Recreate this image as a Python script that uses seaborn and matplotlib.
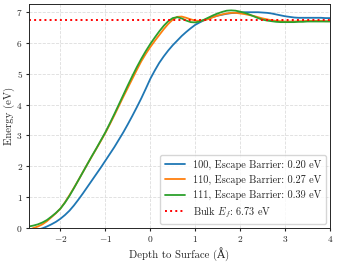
import numpy as np
import pandas as pd
import seaborn as sns
import matplotlib.pyplot as plt

# depth grid (Angstrom), 0.1 A steps from -2.8 to 4.0
depth = list(np.round(np.arange(-2.8, 4.05, 0.1), 1))

# potential energy (eV) for each surface
e_100 = [-0.15, -0.12, -0.08, -0.05, -0.01, 0.05, 0.12, 0.2, 0.3, 0.42,
         0.56, 0.73, 0.92, 1.12, 1.33, 1.54, 1.75, 1.96, 2.18, 2.4,
         2.62, 2.86, 3.1, 3.36, 3.63, 3.91, 4.2, 4.51, 4.83, 5.1,
         5.35, 5.56, 5.75, 5.92, 6.07, 6.22, 6.35, 6.47, 6.58, 6.66,
         6.73, 6.79, 6.84, 6.88, 6.91, 6.94, 6.96, 6.97, 6.98, 6.99,
         6.99, 6.99, 6.99, 6.98, 6.97, 6.95, 6.92, 6.89, 6.86, 6.84,
         6.82, 6.81, 6.81, 6.81, 6.81, 6.81, 6.81, 6.8, 6.8]
e_110 = [-0.1, -0.06, 0.0, 0.05, 0.12, 0.22, 0.35, 0.48, 0.63, 0.83,
         1.06, 1.3, 1.55, 1.81, 2.07, 2.32, 2.57, 2.82, 3.08, 3.36,
         3.65, 3.95, 4.25, 4.54, 4.83, 5.12, 5.4, 5.64, 5.86, 6.06,
         6.25, 6.44, 6.61, 6.75, 6.84, 6.85, 6.81, 6.76, 6.72, 6.71,
         6.73, 6.77, 6.83, 6.88, 6.92, 6.95, 6.97, 6.97, 6.95, 6.93,
         6.9, 6.87, 6.83, 6.79, 6.76, 6.73, 6.71, 6.7, 6.69, 6.69,
         6.69, 6.7, 6.7, 6.71, 6.71, 6.71, 6.71, 6.7, 6.7]
e_111 = [0.03, 0.05, 0.08, 0.12, 0.18, 0.26, 0.37, 0.49, 0.63, 0.82,
         1.04, 1.29, 1.55, 1.81, 2.07, 2.33, 2.58, 2.84, 3.1, 3.39,
         3.69, 4.0, 4.31, 4.62, 4.92, 5.21, 5.48, 5.73, 5.96, 6.17,
         6.37, 6.55, 6.7, 6.8, 6.83, 6.79, 6.72, 6.67, 6.66, 6.69,
         6.75, 6.82, 6.89, 6.95, 7.0, 7.04, 7.05, 7.04, 7.01, 6.97,
         6.92, 6.86, 6.8, 6.75, 6.72, 6.7, 6.68, 6.67, 6.67, 6.67,
         6.67, 6.68, 6.68, 6.69, 6.69, 6.69, 6.69, 6.69, 6.69]
labels = ['100, Escape Barrier: 0.20 eV',
          '110, Escape Barrier: 0.27 eV',
          '111, Escape Barrier: 0.39 eV']
bulk_ef = 6.73

df = pd.DataFrame({
    'depth': depth * 3,
    'energy': e_100 + e_110 + e_111,
    'surface': [labels[0]] * len(depth) + [labels[1]] * len(depth) + [labels[2]] * len(depth),
})

sns.set_style('ticks')
plt.rcParams['font.family'] = ['cmr10', 'DejaVu Serif']
plt.rcParams['mathtext.fontset'] = 'cm'
plt.rcParams['axes.formatter.use_mathtext'] = True

fig, ax = plt.subplots(figsize=(3.37, 2.63), dpi=100)
sns.lineplot(data=df, x='depth', y='energy', hue='surface',
             palette=['#1f77b4', '#ff7f0e', '#2ca02c'], linewidth=1.3, ax=ax)
ax.axhline(bulk_ef, color='red', linestyle=':', linewidth=1.4,
           label=r'Bulk $E_f$: %.2f eV' % bulk_ef)

ax.set_xlim(-2.7, 4)
ax.set_ylim(0, 7.25)
ax.grid(True, linestyle='--', color='#dddddd', linewidth=0.6)
ax.set_xlabel('Depth to Surface (Å)', fontsize=7.8, labelpad=2)
ax.set_ylabel('Energy (eV)', fontsize=7.8, labelpad=1)
ax.tick_params(labelsize=6.8, length=2.5, pad=2)
for s in ax.spines.values():
    s.set_linewidth(0.7)
ax.legend(loc='lower right', fontsize=7.4, title=None, borderaxespad=0.4)

fig.subplots_adjust(left=0.086, right=0.979, top=0.984, bottom=0.133)
fig.savefig('out.png', dpi=100)
